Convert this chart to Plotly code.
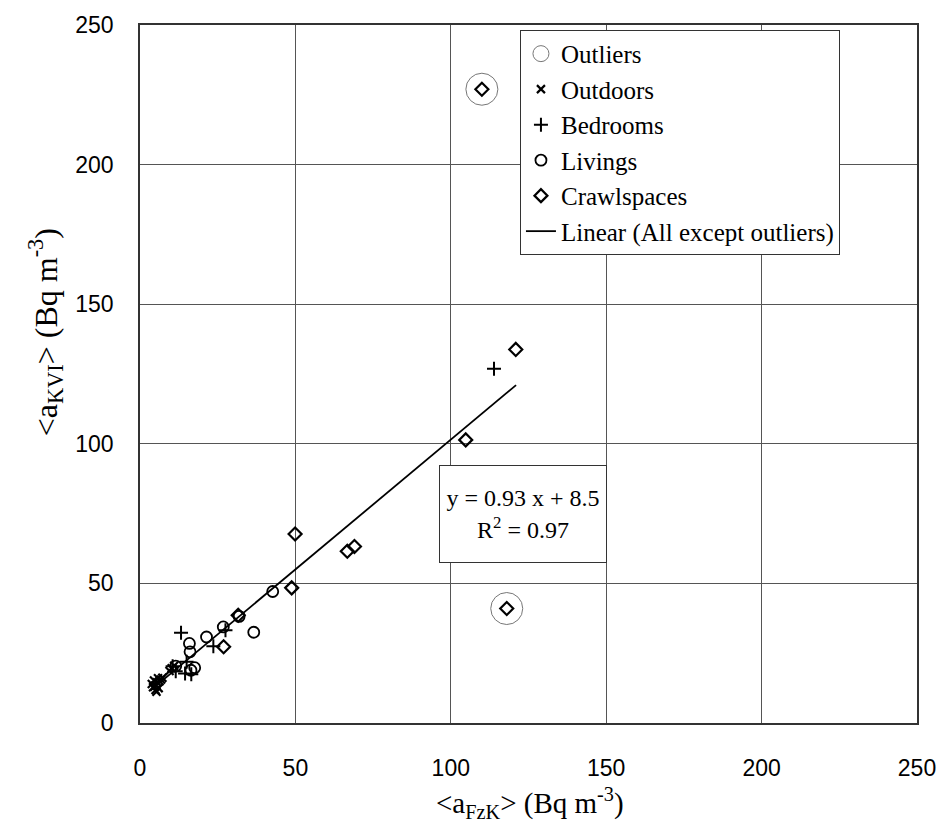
import plotly.graph_objects as go

# ---- data ----
outdoors_x = [3.8, 4.2, 4.5, 5.0, 5.0, 5.5, 5.8, 6.0, 6.3, 6.8, 4.6, 5.3, 7.2, 9.5, 10.2, 11.0]
outdoors_y = [14.0, 12.8, 15.2, 13.5, 11.8, 14.6, 16.0, 12.5, 15.0, 15.6, 13.0, 11.2, 16.2, 18.6, 19.6, 20.5]

bed_x = [13.2, 23.6, 27.5, 15.0, 14.5, 11.5, 10.5, 16.5, 113.9]
bed_y = [32.3, 27.5, 33.2, 21.9, 17.7, 18.5, 20.3, 17.5, 126.9]

liv_x = [42.7, 31.9, 36.6, 26.8, 21.4, 15.9, 16.1, 16.4, 17.6, 11.5]
liv_y = [47.1, 38.2, 32.5, 34.4, 30.8, 28.5, 25.5, 18.9, 19.8, 20.4]

crawl_x = [104.8, 49.9, 66.7, 69.0, 48.8, 31.6, 26.9, 120.9, 110.0, 118.0]
crawl_y = [101.4, 67.7, 61.5, 63.2, 48.4, 38.6, 27.3, 133.8, 227.0, 41.0]

outlier_x = [110.0, 118.0]
outlier_y = [227.0, 41.0]

fit_slope = 0.93
fit_intercept = 8.5
fit_x = [3.8, 121.0]
fit_y = [fit_slope * v + fit_intercept for v in fit_x]

tick_vals = [0, 50, 100, 150, 200, 250]
tick_text = ["0", "50", "100", "150", "200", "250"]

serif = "Liberation Serif, Times New Roman, serif"
sans = "Liberation Sans, Arial, sans-serif"

fig = go.Figure()
fig.add_trace(go.Scatter(x=outlier_x, y=outlier_y, mode="markers", name="Outliers",
                         legendgroup="g1",
                         marker=dict(symbol="circle-open", size=32, color="#777777",
                                     line=dict(width=1, color="#777777"))))
fig.add_trace(go.Scatter(x=outdoors_x, y=outdoors_y, mode="markers", name="Outdoors",
                         legendgroup="g2",
                         marker=dict(symbol="x-thin", size=8, color="black",
                                     line=dict(width=2.2, color="black"))))
fig.add_trace(go.Scatter(x=bed_x, y=bed_y, mode="markers", name="Bedrooms",
                         legendgroup="g3",
                         marker=dict(symbol="cross-thin", size=10, color="black",
                                     line=dict(width=2, color="black"))))
fig.add_trace(go.Scatter(x=liv_x, y=liv_y, mode="markers", name="Livings",
                         legendgroup="g4",
                         marker=dict(symbol="circle-open", size=11, color="black",
                                     line=dict(width=1.8, color="black"))))
fig.add_trace(go.Scatter(x=crawl_x, y=crawl_y, mode="markers", name="Crawlspaces",
                         legendgroup="g5",
                         marker=dict(symbol="diamond-open", size=10, color="black",
                                     line=dict(width=2.2, color="black"))))
fig.add_trace(go.Scatter(x=fit_x, y=fit_y, mode="lines", name="Linear (All except outliers)",
                         legendgroup="g6",
                         line=dict(color="black", width=1.8)))

axis_common = dict(range=[0, 250], tickvals=tick_vals, ticktext=tick_text,
                   showgrid=True, gridcolor="#555555", gridwidth=1,
                   zeroline=False, showline=True, linecolor="#333333", linewidth=1.5,
                   mirror=True, ticks="", tickfont=dict(family=sans, size=23, color="black"),
                   fixedrange=True)

fig.update_layout(
    width=950, height=822,
    margin=dict(l=140, r=33, t=23, b=99),
    paper_bgcolor="white", plot_bgcolor="white",
    xaxis=dict(**axis_common, ticklabelstandoff=24),
    yaxis=dict(**axis_common, ticklabelstandoff=20),
    legend=dict(x=0.489, y=0.993, xanchor="left", yanchor="top",
                bgcolor="white", bordercolor="#333333", borderwidth=1,
                font=dict(family=serif, size=25, color="black"),
                tracegroupgap=0, itemsizing="trace"),
    showlegend=True,
    annotations=[
        dict(text="&lt;a<sub>FzK</sub>&gt; (Bq m<sup>-3</sup>)", xref="paper", yref="paper",
             x=0.502, y=-0.114, showarrow=False, xanchor="center", yanchor="middle",
             font=dict(family=serif, size=29, color="black")),
        dict(text="&lt;a<sub>KVI</sub>&gt; (Bq m<sup>-3</sup>)", xref="paper", yref="paper",
             x=-0.122, y=0.56, showarrow=False, xanchor="center", yanchor="middle",
             textangle=-90, font=dict(family=serif, size=32, color="black")),
        dict(text="y = 0.93 x + 8.5<br>R<sup>2</sup> = 0.97", xref="paper", yref="paper",
             x=0.493, y=0.299, showarrow=False, xanchor="center", yanchor="middle",
             align="center", bgcolor="white", bordercolor="#333333", borderwidth=1,
             width=160, height=90, borderpad=3,
             font=dict(family=serif, size=24, color="black")),
    ],
)

fig.write_html("out.html")
